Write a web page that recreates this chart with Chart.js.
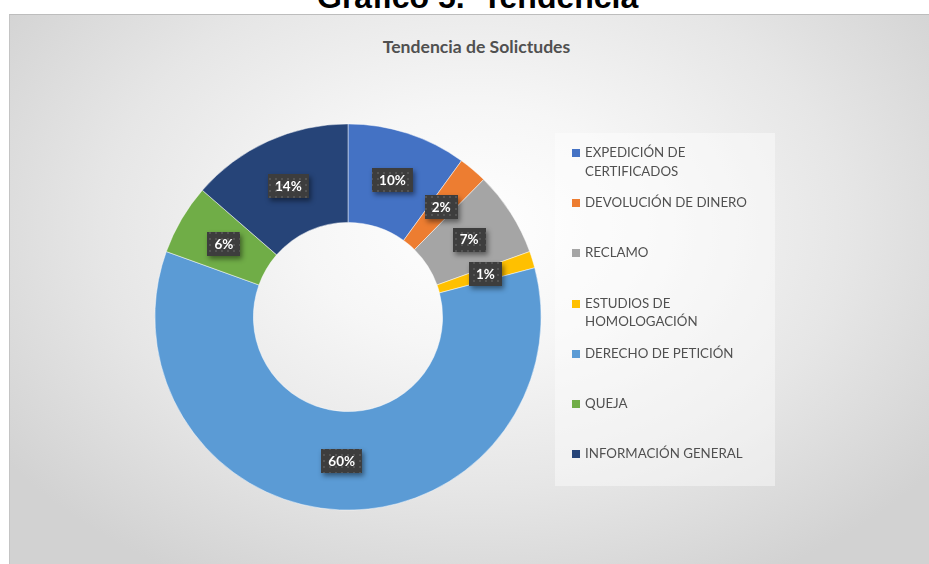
<!DOCTYPE html>
<html>
<head>
<meta charset="utf-8">
<script src="https://cdn.jsdelivr.net/npm/chart.js@4/dist/chart.umd.min.js"></script>
<style>
  html, body { margin: 0; padding: 0; background: #ffffff; width: 929px; height: 564px; overflow: hidden; position: relative; }
  #pageTitle { position: absolute; left: 317px; top: -19px; font: bold 32px "Liberation Sans", Arial, sans-serif; line-height: 32px; color: #000; white-space: pre; }
  #panel { position: absolute; left: 9px; top: 14px; width: 930px; height: 560px; box-sizing: border-box;
    border-left: 1px solid #c4c4c4; border-top: 1px solid #bdbdbd;
    background: radial-gradient(ellipse 62% 72% at 50% 38%, #ffffff 0%, #f6f6f6 30%, #e6e6e6 65%, #d2d2d2 100%); }
  #chartTitle { position: absolute; width: 929px; text-align: center; left: 12px; top: 36px; font: bold 17.6px Lato, "Open Sans", sans-serif; color: #505050; }
  #chartWrap { position: absolute; left: 135px; top: 104px; width: 426px; height: 426px; }
  #legend { position: absolute; left: 555px; top: 133px; width: 220px; height: 353px; background: rgba(255,255,255,0.42); }
  .item { position: absolute; left: 17px; width: 200px; }
  .sw { position: absolute; left: 0; top: 4px; width: 8px; height: 8px; }
  .txt { position: absolute; left: 13px; width: 175px; font: 13.3px Lato, "Open Sans", sans-serif; line-height: 18.5px; color: #505050; margin-top: -2px; }
</style>
</head>
<body>
<div id="pageTitle">Gráfico 5.  Tendencia</div>
<div id="panel"></div>
<div id="chartTitle">Tendencia de Solictudes</div>
<div id="chartWrap"><canvas id="c" width="426" height="426"></canvas></div>
<div id="legend"></div>
<script>
const categories = [
  "EXPEDICIÓN DE CERTIFICADOS",
  "DEVOLUCIÓN DE DINERO",
  "RECLAMO",
  "ESTUDIOS DE HOMOLOGACIÓN",
  "DERECHO DE PETICIÓN",
  "QUEJA",
  "INFORMACIÓN GENERAL"
];
const values = [10.0, 2.4, 7.1, 1.4, 59.6, 5.9, 13.6];
const colors = ["#4472C4", "#ED7D31", "#A5A5A5", "#FFC000", "#5B9BD5", "#70AD47", "#264478"];

// HTML legend built from categories
const legend = document.getElementById('legend');
categories.forEach((name, i) => {
  const it = document.createElement('div');
  it.className = 'item';
  it.style.top = (12 + i * 50.2) + 'px';
  const sw = document.createElement('div');
  sw.className = 'sw';
  sw.style.background = colors[i];
  const tx = document.createElement('div');
  tx.className = 'txt';
  tx.textContent = name;
  it.appendChild(sw); it.appendChild(tx);
  legend.appendChild(it);
});

// dotted dark pattern for label boxes
const pc = document.createElement('canvas');
pc.width = 6; pc.height = 6;
const pctx = pc.getContext('2d');
pctx.fillStyle = '#3d3d3d'; pctx.fillRect(0, 0, 6, 6);
pctx.fillStyle = '#545454'; pctx.fillRect(2, 2, 2, 2);

const labelPlugin = {
  id: 'boxLabels',
  afterDatasetsDraw(chart) {
    const ctx = chart.ctx;
    const meta = chart.getDatasetMeta(0);
    const data = chart.data.datasets[0].data;
    const total = data.reduce((a, b) => a + b, 0);
    const pattern = ctx.createPattern(pc, 'repeat');
    meta.data.forEach((arc, i) => {
      const p = arc.tooltipPosition();
      const txt = Math.round(data[i] / total * 100) + '%';
      ctx.save();
      ctx.font = 'bold 13.5px Lato, "Open Sans", sans-serif';
      const w = ctx.measureText(txt).width + 14;
      const h = 24;
      const x = Math.round(p.x - w / 2), y = Math.round(p.y - h / 2);
      ctx.shadowColor = 'rgba(0,0,0,0.45)';
      ctx.shadowBlur = 5;
      ctx.shadowOffsetX = 2;
      ctx.shadowOffsetY = 3;
      ctx.fillStyle = '#3d3d3d';
      ctx.fillRect(x, y, w, h);
      ctx.shadowColor = 'transparent';
      ctx.fillStyle = pattern;
      ctx.fillRect(x, y, w, h);
      ctx.fillStyle = '#ffffff';
      ctx.textAlign = 'center';
      ctx.textBaseline = 'middle';
      ctx.fillText(txt, p.x, p.y + 0.5);
      ctx.restore();
    });
  }
};

new Chart(document.getElementById('c'), {
  type: 'doughnut',
  data: {
    labels: categories,
    datasets: [{
      data: values,
      backgroundColor: colors,
      borderColor: 'rgba(255,255,255,0.6)',
      borderWidth: 0.8
    }]
  },
  options: {
    responsive: false,
    animation: false,
    cutout: '49%',
    layout: { padding: 19.5 },
    plugins: {
      legend: { display: false },
      tooltip: { enabled: false },
      title: { display: false }
    }
  },
  plugins: [labelPlugin]
});
</script>
</body>
</html>
